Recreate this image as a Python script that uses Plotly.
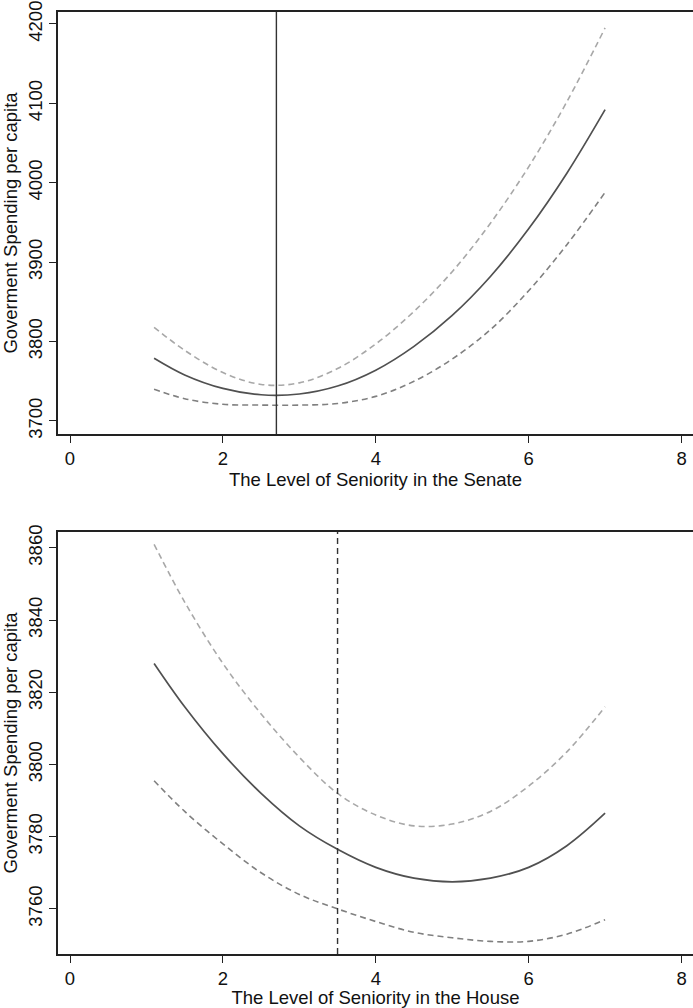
import plotly.graph_objects as go

# ---------------- data: Senate (top panel) ----------------
senate_x = [1.1, 1.5, 2.0, 2.5, 3.0, 3.5, 4.0, 4.5, 5.0, 5.5, 6.0, 6.5, 7.0]
senate_fit = [3779, 3758, 3741, 3733, 3734, 3744, 3764, 3794, 3833, 3882, 3942, 4012, 4092]
senate_upper = [3818, 3789, 3761, 3746, 3748, 3766, 3797, 3838, 3888, 3949, 4020, 4102, 4195]
senate_lower = [3740, 3728, 3721, 3720, 3720, 3722, 3731, 3750, 3778, 3815, 3864, 3922, 3988]
senate_vline = 2.7

# ---------------- data: House (bottom panel) ----------------
house_x = [1.1, 1.5, 2.0, 2.5, 3.0, 3.5, 4.0, 4.5, 5.0, 5.5, 6.0, 6.5, 7.0]
house_fit = [3828, 3816, 3803, 3792, 3783, 3776.5, 3771.5, 3768.5, 3767.5, 3768.5, 3771.5, 3777.5, 3786.5]
house_upper = [3861, 3845, 3828, 3814, 3802, 3792, 3786, 3783, 3783.5, 3787, 3794, 3803.5, 3816]
house_lower = [3795.5, 3787, 3778, 3770, 3764, 3760, 3756.5, 3753.5, 3752, 3751, 3751, 3753, 3757]
house_vline = 3.5

x_ticks = [0, 2, 4, 6, 8]
senate_yticks = [3700, 3800, 3900, 4000, 4100, 4200]
house_yticks = [3760, 3780, 3800, 3820, 3840, 3860]

FONT = "Liberation Sans Narrow, Arial Narrow, Liberation Sans, Arial, sans-serif"
FS = 18.5
W, H = 693, 1008

fig = go.Figure()

def add_panel(xa, ya, x, fit, up, lo):
    fig.add_trace(go.Scatter(x=x, y=up, mode="lines", xaxis=xa, yaxis=ya,
                             line=dict(color="#a8a8a8", width=1.6, dash="6px,4px", shape="spline")))
    fig.add_trace(go.Scatter(x=x, y=lo, mode="lines", xaxis=xa, yaxis=ya,
                             line=dict(color="#808080", width=1.6, dash="6px,4px", shape="spline")))
    fig.add_trace(go.Scatter(x=x, y=fit, mode="lines", xaxis=xa, yaxis=ya,
                             line=dict(color="#505050", width=1.7, shape="spline")))

add_panel("x", "y", senate_x, senate_fit, senate_upper, senate_lower)
add_panel("x2", "y2", house_x, house_fit, house_upper, house_lower)

fig.add_shape(type="line", xref="x", yref="y domain", x0=senate_vline, x1=senate_vline, y0=0, y1=1,
              line=dict(color="#333333", width=1.4))
fig.add_shape(type="line", xref="x2", yref="y2 domain", x0=house_vline, x1=house_vline, y0=0, y1=1,
              line=dict(color="#333333", width=1.4, dash="6px,4px"))

left = 58 / W
xrange = [-0.157, 8.15]

def xaxis(anchor, title):
    return dict(domain=[left, 1], anchor=anchor, range=xrange, tickvals=x_ticks,
                ticks="outside", ticklen=7, tickwidth=1, tickcolor="#222",
                showline=True, linecolor="#222", linewidth=1.5, mirror=True,
                showgrid=False, zeroline=False, automargin=False,
                tickfont=dict(family=FONT, size=FS, color="#111"),
                title=dict(text=title, font=dict(family=FONT, size=FS, color="#111"), standoff=0))

def yaxis(anchor, dom, rng, ticks):
    return dict(domain=dom, anchor=anchor, range=rng, tickvals=ticks, tickangle=-90,
                ticks="outside", ticklen=7, tickwidth=1, tickcolor="#222",
                showline=True, linecolor="#222", linewidth=1.5,
                showgrid=False, zeroline=False, automargin=False,
                tickfont=dict(family=FONT, size=FS, color="#111"),
                title=dict(text="Goverment Spending per capita",
                           font=dict(family=FONT, size=FS, color="#111"), standoff=2))

fig.update_layout(
    width=W, height=H, margin=dict(l=0, r=0, t=0, b=0),
    paper_bgcolor="white", plot_bgcolor="white", showlegend=False,
    xaxis=xaxis("y", "The Level of Seniority in the Senate"),
    yaxis=yaxis("x", [(H - 434) / H, (H - 12) / H], [3683.6, 4215], senate_yticks),
    xaxis2=xaxis("y2", "The Level of Seniority in the House"),
    yaxis2=yaxis("x2", [(H - 954) / H, (H - 532) / H], [3747.5, 3864.4], house_yticks),
)

fig.write_html("out.html")
